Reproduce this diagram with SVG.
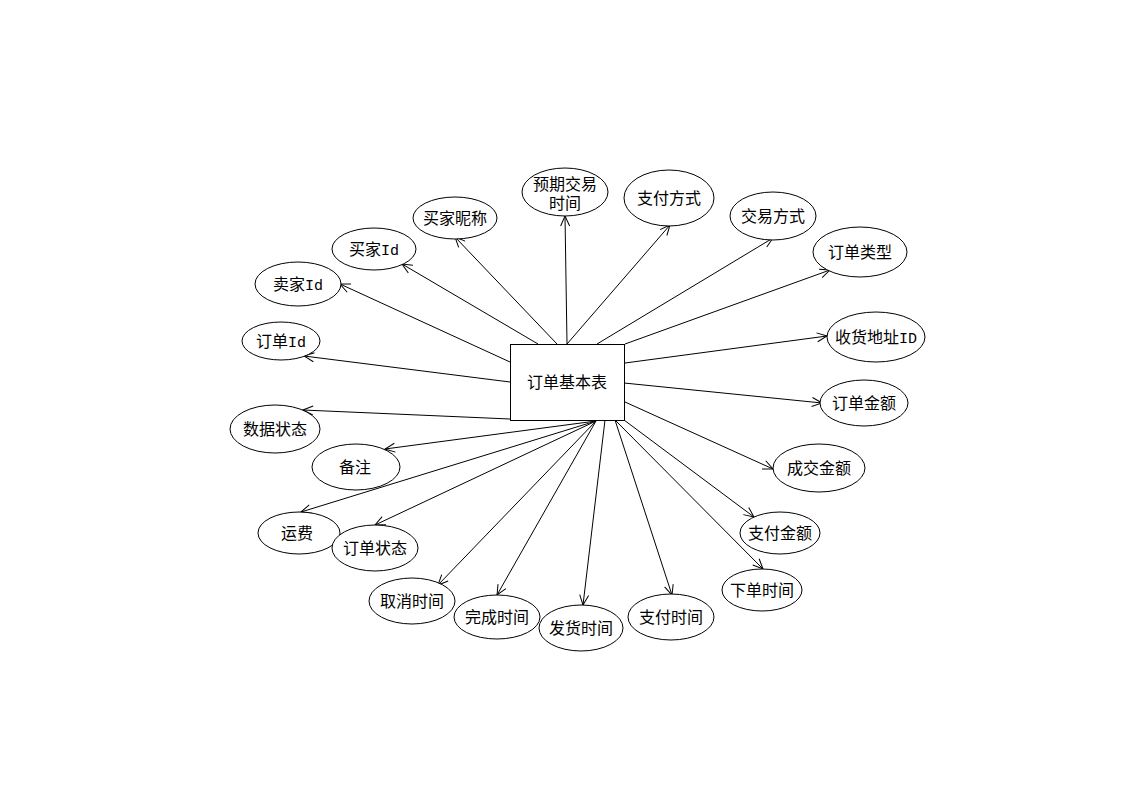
<svg xmlns="http://www.w3.org/2000/svg" width="1123" height="794" viewBox="0 0 1123 794">
  <style>
    .ent { fill: #ffffff; stroke: #000000; stroke-width: 1; }
    .attr { fill: #ffffff; stroke: #000000; stroke-width: 1; }
    .lbl { font-family: "Noto Sans CJK SC", "Liberation Sans", sans-serif; font-size: 16px; fill: #000000; text-anchor: middle; }
    .tight { font-family: "Liberation Sans", "Noto Sans CJK SC", sans-serif; }
    .mono { font-family: "Liberation Mono", "Noto Sans CJK SC", monospace; font-size: 15px; }
    .link { stroke: #000000; stroke-width: 1; fill: none; marker-end: url(#open); }
  </style>
  <defs>
    <marker id="open" markerUnits="userSpaceOnUse" markerWidth="12" markerHeight="12" viewBox="0 0 12 12" refX="11" refY="6" orient="auto">
      <path d="M1,1.5 L11,6 L1,10.5" fill="none" stroke="#000000" stroke-width="1"/>
    </marker>
  </defs>
  <rect width="1123" height="794" fill="#ffffff"/>

  <!-- connectors: from the order table to each attribute -->
  <g id="connectors">
    <line class="link" x1="510" y1="382" x2="304" y2="356"/>
    <line class="link" x1="510" y1="362" x2="340" y2="284"/>
    <line class="link" x1="538" y1="344" x2="402" y2="264"/>
    <line class="link" x1="557" y1="344" x2="455" y2="237"/>
    <line class="link" x1="567" y1="344" x2="565" y2="216"/>
    <line class="link" x1="567" y1="344" x2="670" y2="225"/>
    <line class="link" x1="597" y1="344" x2="773" y2="238"/>
    <line class="link" x1="625" y1="344" x2="830" y2="270"/>
    <line class="link" x1="625" y1="363" x2="827" y2="336"/>
    <line class="link" x1="624" y1="383" x2="822" y2="403"/>
    <line class="link" x1="625" y1="402" x2="773" y2="469"/>
    <line class="link" x1="624" y1="420" x2="754" y2="517"/>
    <line class="link" x1="616" y1="421" x2="763" y2="569"/>
    <line class="link" x1="615" y1="420" x2="672" y2="595"/>
    <line class="link" x1="605" y1="420" x2="583" y2="605"/>
    <line class="link" x1="596" y1="421" x2="497" y2="595"/>
    <line class="link" x1="596" y1="421" x2="438" y2="585"/>
    <line class="link" x1="596" y1="421" x2="375" y2="525"/>
    <line class="link" x1="596" y1="421" x2="301" y2="512"/>
    <line class="link" x1="596" y1="421" x2="385" y2="449"/>
    <line class="link" x1="510" y1="419" x2="303" y2="410"/>
  </g>

  <!-- central entity -->
  <g id="order-table">
    <rect class="ent" x="510.5" y="344.5" width="114" height="76"/>
    <text class="lbl" x="567" y="388">订单基本表</text>
  </g>

  <!-- attributes -->
  <g id="attr-expected-time">
    <ellipse class="attr" cx="565" cy="192" rx="43" ry="24"/>
    <text class="lbl tight"><tspan x="565" y="190">预期交易</tspan><tspan x="565" y="209">时间</tspan></text>
  </g>
  <g id="attr-pay-method">
    <ellipse class="attr" cx="669" cy="198" rx="45" ry="28"/>
    <text class="lbl" x="669" y="204">支付方式</text>
  </g>
  <g id="attr-trade-method">
    <ellipse class="attr" cx="773" cy="216" rx="43" ry="24"/>
    <text class="lbl" x="773" y="222">交易方式</text>
  </g>
  <g id="attr-order-type">
    <ellipse class="attr" cx="860" cy="252" rx="47" ry="25"/>
    <text class="lbl" x="860" y="258">订单类型</text>
  </g>
  <g id="attr-address-id">
    <ellipse class="attr" cx="876" cy="337" rx="49" ry="25"/>
    <text class="lbl" x="876" y="343">收货地址<tspan class="mono">ID</tspan></text>
  </g>
  <g id="attr-order-amount">
    <ellipse class="attr" cx="864" cy="403" rx="44" ry="23"/>
    <text class="lbl" x="864" y="409">订单金额</text>
  </g>
  <g id="attr-deal-amount">
    <ellipse class="attr" cx="819" cy="468" rx="46" ry="24"/>
    <text class="lbl" x="819" y="474">成交金额</text>
  </g>
  <g id="attr-pay-amount">
    <ellipse class="attr" cx="780" cy="533" rx="40" ry="21"/>
    <text class="lbl" x="780" y="539">支付金额</text>
  </g>
  <g id="attr-create-time">
    <ellipse class="attr" cx="762" cy="590" rx="40" ry="21"/>
    <text class="lbl" x="762" y="596">下单时间</text>
  </g>
  <g id="attr-pay-time">
    <ellipse class="attr" cx="671" cy="617" rx="43" ry="23"/>
    <text class="lbl" x="671" y="623">支付时间</text>
  </g>
  <g id="attr-ship-time">
    <ellipse class="attr" cx="581" cy="628" rx="42" ry="23"/>
    <text class="lbl" x="581" y="634">发货时间</text>
  </g>
  <g id="attr-finish-time">
    <ellipse class="attr" cx="497" cy="617" rx="43" ry="22"/>
    <text class="lbl" x="497" y="623">完成时间</text>
  </g>
  <g id="attr-cancel-time">
    <ellipse class="attr" cx="412" cy="601" rx="43" ry="23"/>
    <text class="lbl" x="412" y="607">取消时间</text>
  </g>
  <g id="attr-freight">
    <ellipse class="attr" cx="299" cy="533" rx="41" ry="21"/>
    <text class="lbl" x="297" y="539">运费</text>
  </g>
  <g id="attr-order-status">
    <ellipse class="attr" cx="375" cy="548" rx="43" ry="23"/>
    <text class="lbl" x="375" y="554">订单状态</text>
  </g>
  <g id="attr-remark">
    <ellipse class="attr" cx="356" cy="467" rx="44" ry="23"/>
    <text class="lbl" x="355" y="473">备注</text>
  </g>
  <g id="attr-data-status">
    <ellipse class="attr" cx="275" cy="429" rx="45" ry="24"/>
    <text class="lbl" x="275" y="435">数据状态</text>
  </g>
  <g id="attr-order-id">
    <ellipse class="attr" cx="281" cy="341" rx="39" ry="19"/>
    <text class="lbl" x="281" y="347">订单<tspan class="mono">Id</tspan></text>
  </g>
  <g id="attr-seller-id">
    <ellipse class="attr" cx="298" cy="284" rx="43" ry="22"/>
    <text class="lbl" x="298" y="290">卖家<tspan class="mono">Id</tspan></text>
  </g>
  <g id="attr-buyer-id">
    <ellipse class="attr" cx="374" cy="249" rx="42" ry="21"/>
    <text class="lbl" x="374" y="255">买家<tspan class="mono">Id</tspan></text>
  </g>
  <g id="attr-buyer-nick">
    <ellipse class="attr" cx="455" cy="218" rx="42" ry="21"/>
    <text class="lbl" x="455" y="224">买家昵称</text>
  </g>
</svg>
